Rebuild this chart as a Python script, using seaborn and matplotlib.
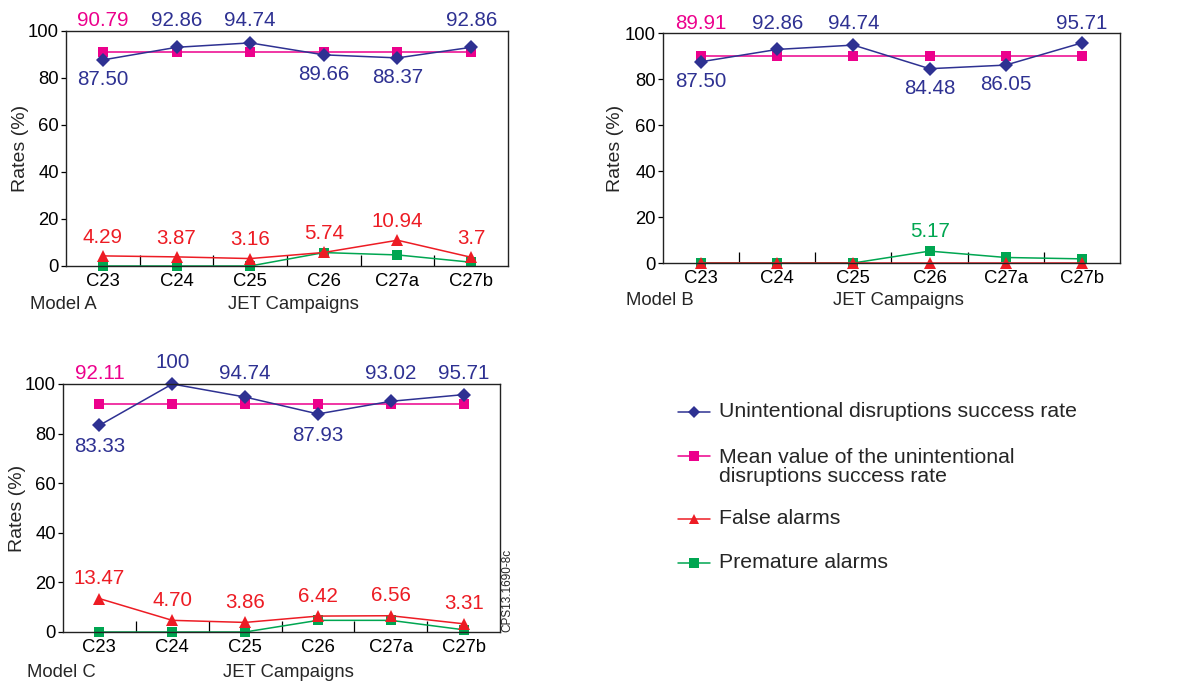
import matplotlib
matplotlib.use("Agg")
import matplotlib.pyplot as plt
from matplotlib.lines import Line2D
import seaborn as sns

# JET campaigns on the x axis
campaigns = ["C23", "C24", "C25", "C26", "C27a", "C27b"]

# Model A
success_a = ["87.50", "92.86", "94.74", "89.66", "88.37", "92.86"]
mean_a = 90.79
false_a = ["4.29", "3.87", "3.16", "5.74", "10.94", "3.7"]
premature_a = [0, 0, 0, 5.7, 4.7, 1.6]

# Model B
success_b = ["87.50", "92.86", "94.74", "84.48", "86.05", "95.71"]
mean_b = 89.91
false_b = ["0", "0", "0", "0", "0", "0"]
premature_b = [0, 0, 0, 5.17, 2.4, 1.8]

# Model C
success_c = ["83.33", "100", "94.74", "87.93", "93.02", "95.71"]
mean_c = 92.11
false_c = ["13.47", "4.70", "3.86", "6.42", "6.56", "3.31"]
premature_c = [0, 0, 0, 4.7, 4.7, 0.9]

BLUE = "#2E3192"
PINK = "#EC008C"
RED = "#ED1C24"
GREEN = "#00A651"

sns.set_theme(style="ticks")
plt.rcParams["font.family"] = ["Liberation Sans", "DejaVu Sans"]

W, H = 1182, 686
fig = plt.figure(figsize=(W / 100, H / 100), dpi=100)

TICK_FS = 13.3
NOTE_FS = 14.8


def px_box(left, top, right, bottom):
    return [left / W, 1 - bottom / H, (right - left) / W, (bottom - top) / H]


def draw(ax, name, success_txt, mean, false_txt, premature):
    success = [float(s) for s in success_txt]
    false = [float(s) for s in false_txt]
    means = [mean] * len(campaigns)
    common = dict(ax=ax, linewidth=1.1, markeredgewidth=0, clip_on=False,
                  legend=False, sort=False)
    sns.lineplot(x=campaigns, y=premature, color=GREEN, marker="s", markersize=7.4, **common)
    sns.lineplot(x=campaigns, y=false, color=RED, marker="^", markersize=8.4, **common)
    sns.lineplot(x=campaigns, y=means, color=PINK, marker="s", markersize=7.4, **common)
    sns.lineplot(x=campaigns, y=success, color=BLUE, marker="D", markersize=7.4, **common)

    for i, v in enumerate(success):
        y = max(v + 8.5, 104.2) if v >= mean else v - 8.5
        ax.text(i, y, success_txt[i], color=BLUE, ha="center", va="center", fontsize=NOTE_FS)
    ax.text(0, 104.2, f"{mean:.2f}", color=PINK, ha="center", va="center", fontsize=NOTE_FS)
    for i, v in enumerate(false):
        if v > 0:
            ax.text(i, v + 8, false_txt[i], color=RED, ha="center", va="center",
                    fontsize=NOTE_FS)
    if not any(false):
        i = premature.index(max(premature))
        ax.text(i, premature[i] + 8.5, f"{premature[i]:.2f}", color=GREEN,
                ha="center", va="center", fontsize=NOTE_FS)

    ax.set_xlim(-0.5, len(campaigns) - 0.5)
    ax.set_ylim(0, 100)
    ax.set_yticks(range(0, 101, 20))
    ax.set_xticks(range(len(campaigns)))
    ax.set_xticklabels(campaigns)
    ax.set_xticks([i + 0.5 for i in range(len(campaigns) - 1)], minor=True)
    ax.tick_params(axis="x", which="major", length=0, pad=5, labelsize=TICK_FS, colors="black")
    ax.tick_params(axis="x", which="minor", direction="in", length=7.7, width=0.9, color="black")
    ax.tick_params(axis="y", length=3.6, width=0.9, pad=1.5, labelsize=TICK_FS, colors="black")
    for s in ax.spines.values():
        s.set_linewidth(1.0)
        s.set_color("#222222")

    ax.set_ylabel("Rates (%)", fontsize=14)
    ax.yaxis.set_label_coords(-0.103, 0.5)
    ax.yaxis.label.set_va("center")
    ax.set_xlabel("JET Campaigns", fontsize=TICK_FS)
    ax.xaxis.set_label_coords(0.515, -0.163)
    ax.xaxis.label.set_va("center")
    ax.text(-0.082, -0.163, f"Model {name}", transform=ax.transAxes,
            ha="left", va="center", fontsize=TICK_FS)


ax_a = fig.add_axes(px_box(66, 30.5, 508, 266))
draw(ax_a, "A", success_a, mean_a, false_a, premature_a)
ax_b = fig.add_axes(px_box(663, 33, 1120, 263))
draw(ax_b, "B", success_b, mean_b, false_b, premature_b)
ax_c = fig.add_axes(px_box(63, 384, 500, 632))
draw(ax_c, "C", success_c, mean_c, false_c, premature_c)

fig.text(507 / W, 1 - 632 / H, "CPS13.1690-8c", rotation=90, fontsize=8.5,
         ha="center", va="bottom")

# legend drawn by hand so the two-line entry keeps its marker on the first line
legend_items = [
    ("Unintentional disruptions success rate", BLUE, "D", 412, 412),
    ("Mean value of the unintentional\ndisruptions success rate", PINK, "s", 456, 467),
    ("False alarms", RED, "^", 519, 519),
    ("Premature alarms", GREEN, "s", 563, 563),
]
for label, color, marker, y_handle, y_text in legend_items:
    fy = 1 - y_handle / H
    fig.add_artist(Line2D([678 / W, 710 / W], [fy, fy], transform=fig.transFigure,
                          color=color, linewidth=1.1))
    fig.add_artist(Line2D([694 / W], [fy], transform=fig.transFigure, color=color,
                          marker=marker, markersize=6.5, markeredgewidth=0))
    fig.text(719 / W, 1 - y_text / H, label, fontsize=15.3, ha="left", va="center",
             linespacing=1.0)

fig.savefig("out.png", dpi=100)
